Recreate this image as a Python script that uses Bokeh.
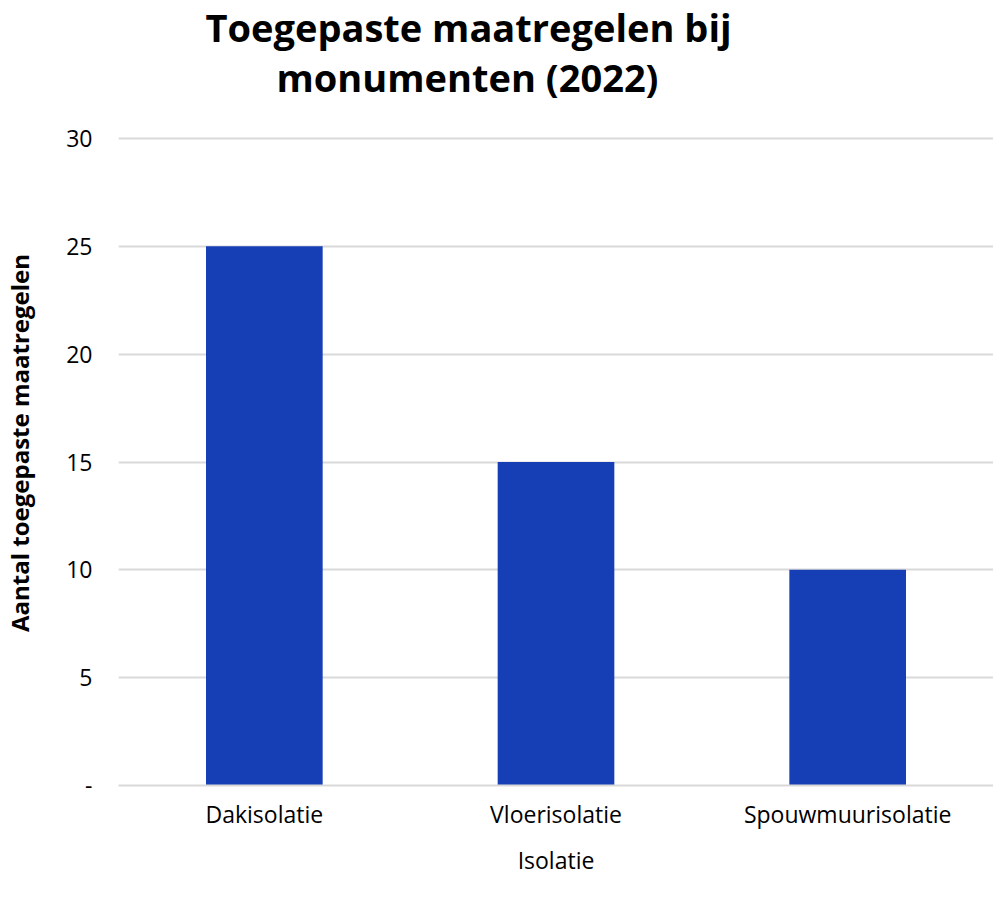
from bokeh.plotting import figure
from bokeh.models import (Range1d, FixedTicker, Legend, LegendItem,
                          Title, ColumnDataSource)
from bokeh.embed import file_html
from bokeh.resources import INLINE

# ---- data ----
categories = ["Dakisolatie", "Vloerisolatie", "Spouwmuurisolatie"]
values = [25, 15, 10]
y_ticks = [0, 5, 10, 15, 20, 25, 30]
y_tick_labels = ["-", "5", "10", "15", "20", "25", "30"]
series_name = "Provincie- / gemeentemonument"
group_label = "Isolatie"
title_lines = ["Toegepaste maatregelen bij", "monumenten (2022)"]
y_label = "Aantal toegepaste maatregelen"

# ---- style / layout ----
FONT = "Open Sans"
BAR = "#163FB6"
GRID = "#d9d9d9"
FW = 875
PX_PER_UNIT = 647 / 30.0        # vertical scale of the value axis
FRAME_TOP = 91                  # expected height of the two title panels
Y30_AT = 129                    # where the 30 gridline should sit
FRAME_BOTTOM = 776
FH = FRAME_BOTTOM - FRAME_TOP
Y_END = 30 + (Y30_AT - FRAME_TOP) / PX_PER_UNIT

n = len(categories)
centers = [i + 0.5 for i in range(n)]   # category slot centres on a 0..n axis
src = ColumnDataSource(dict(x=centers, cat=categories, val=values))

p = figure(frame_width=FW, frame_height=FH,
           x_range=Range1d(0, n), y_range=Range1d(0, Y_END),
           output_backend="svg", toolbar_location=None,
           min_border_left=110, min_border_right=0,
           min_border_top=0, min_border_bottom=0)
p.outline_line_color = None
p.background_fill_color = "white"
p.border_fill_color = "white"

r = p.vbar(x="x", top="val", width=0.4, source=src, fill_color=BAR, line_color=None)

# y axis
p.yaxis.ticker = FixedTicker(ticks=y_ticks)
p.yaxis.major_label_overrides = {t: l for t, l in zip(y_ticks, y_tick_labels)}
p.yaxis.axis_line_color = None
p.yaxis.major_tick_line_color = None
p.yaxis.minor_tick_line_color = None
p.yaxis.major_label_standoff = 20
p.yaxis.major_label_text_font = FONT
p.yaxis.major_label_text_font_size = "23px"
p.yaxis.major_label_text_color = "#000000"
p.yaxis.axis_label = y_label
p.yaxis.axis_label_text_font = FONT
p.yaxis.axis_label_text_font_style = "bold"
p.yaxis.axis_label_text_font_size = "24px"
p.yaxis.axis_label_text_color = "#000000"
p.yaxis.axis_label_standoff = 27

p.ygrid.ticker = FixedTicker(ticks=y_ticks)
p.ygrid.grid_line_color = GRID
p.ygrid.grid_line_width = 2
p.xgrid.grid_line_color = None

# x axis (categories)
p.xaxis.ticker = FixedTicker(ticks=centers)
p.xaxis.major_label_overrides = {c: lab for c, lab in zip(centers, categories)}
p.xaxis.axis_line_color = GRID
p.xaxis.axis_line_width = 2
p.xaxis.major_tick_line_color = None
p.xaxis.minor_tick_line_color = None
p.xaxis.major_tick_out = 0
p.xaxis.minor_tick_out = 0
p.xaxis.major_label_standoff = 12
p.xaxis.major_label_text_font = FONT
p.xaxis.major_label_text_font_size = "23px"
p.xaxis.major_label_text_color = "#000000"
p.xaxis.axis_label = group_label
p.xaxis.axis_label_text_font = FONT
p.xaxis.axis_label_text_font_style = "normal"
p.xaxis.axis_label_text_font_size = "23px"
p.xaxis.axis_label_text_color = "#000000"
p.xaxis.axis_label_standoff = 11

# title lines (closest-to-frame first), each centred on the chart
for line, so, off in ((title_lines[1], -4, 158), (title_lines[0], -4, 87)):
    p.add_layout(Title(text=line, align="left", offset=off, standoff=so,
                       text_font=FONT, text_font_style="bold",
                       text_font_size="38px", text_color="#000000"), "above")

# legend
legend = Legend(items=[LegendItem(label=series_name, renderers=[r])],
                orientation="horizontal", location="center",
                padding=0, margin=0, spacing=0,
                glyph_width=13, glyph_height=13, label_standoff=4,
                label_text_font=FONT, label_text_font_size="22px",
                label_text_color="#000000", border_line_color=None,
                background_fill_alpha=0)
p.add_layout(legend, "below")

open("out.html", "w").write(file_html(p, INLINE))
